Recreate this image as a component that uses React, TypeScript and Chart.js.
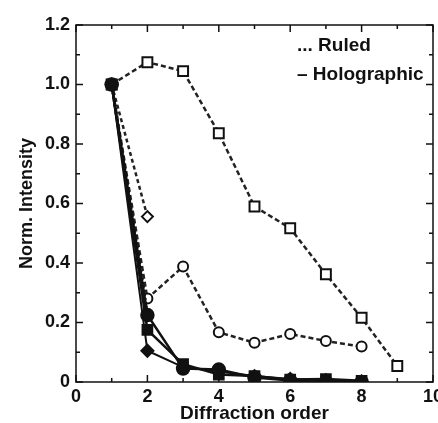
import React, { useEffect, useRef } from 'react';
import { Chart, registerables } from 'chart.js';
Chart.register(...registerables);

const orders = [1, 2, 3, 4, 5, 6, 7, 8, 9];
const ruledSquare = [1.0, 1.075, 1.045, 0.836, 0.59, 0.517, 0.362, 0.216, 0.054];
const ruledCircle = [1.0, 0.281, 0.388, 0.167, 0.132, 0.161, 0.138, 0.119];
const ruledDiamond = [1.0, 0.556];
const ruledDotted = [1.0, 0.23];
const holoSquare = [1.0, 0.175, 0.06, 0.025, 0.02, 0.008, 0.01, 0.004];
const holoCircle = [1.0, 0.225, 0.045, 0.042, 0.015, 0.005, 0.0, 0.0];
const holoDiamond = [1.0, 0.105, 0.05, 0.035, 0.02, 0.01, 0.006, 0.002];
const xTicks = [0, 2, 4, 6, 8, 10];
const yTicks = [0, 0.2, 0.4, 0.6, 0.8, 1.0, 1.2];
const legendLabels = ['... Ruled', '\u2013 Holographic'];

const FONT = '"Liberation Sans", Arial, sans-serif';
const AREA_RIGHT = 433;

const pts = (vals: number[]) => vals.map((v, i) => ({ x: orders[i], y: v }));

const fixArea = {
  id: 'fixArea',
  afterLayout(chart: any) {
    try {
      const xs = chart.scales.x;
      if (xs && xs.right !== AREA_RIGHT) {
        xs.right = AREA_RIGHT;
        xs.width = AREA_RIGHT - xs.left;
        xs.configure();
        chart.chartArea.right = AREA_RIGHT;
        chart.chartArea.width = AREA_RIGHT - chart.chartArea.left;
      }
    } catch (e) {
      /* keep default layout */
    }
  },
};

const frame = {
  id: 'frame',
  afterDraw(chart: any) {
    const { ctx, chartArea: a, scales } = chart;
    const xs = scales.x, ys = scales.y;
    ctx.save();
    ctx.strokeStyle = '#111';
    ctx.lineWidth = 1.5;
    ctx.strokeRect(a.left, a.top, a.right - a.left, a.bottom - a.top);
    ctx.beginPath();
    for (let v = 0; v <= 10; v += 1) {
      const len = v % 2 === 0 ? 7 : 4;
      const px = xs.getPixelForValue(v);
      ctx.moveTo(px, a.bottom); ctx.lineTo(px, a.bottom - len);
      ctx.moveTo(px, a.top); ctx.lineTo(px, a.top + len);
    }
    for (let k = 0; k <= 12; k += 1) {
      const len = k % 2 === 0 ? 7 : 4;
      const py = ys.getPixelForValue(k / 10);
      ctx.moveTo(a.left, py); ctx.lineTo(a.left + len, py);
      ctx.moveTo(a.right, py); ctx.lineTo(a.right - len, py);
    }
    ctx.stroke();
    ctx.fillStyle = '#111';
    ctx.font = `bold 19px ${FONT}`;
    ctx.textBaseline = 'middle';
    ctx.textAlign = 'left';
    ctx.fillText(legendLabels[0], 297, 46);
    ctx.fillText(legendLabels[1], 297, 75);
    ctx.restore();
  },
};

export default function App() {
  const ref = useRef<HTMLCanvasElement>(null);
  useEffect(() => {
    document.body.style.margin = '0';
    const dashed = [5, 3];
    const chart = new Chart(ref.current!, {
      type: 'line',
      data: {
        datasets: [
          { data: pts(holoSquare), borderColor: '#111', borderWidth: 2.5, pointStyle: 'rect', pointRadius: 6.5, pointBackgroundColor: '#111', pointBorderColor: '#111' },
          { data: pts(holoCircle), borderColor: '#111', borderWidth: 2.5, pointStyle: 'circle', pointRadius: 6, pointBackgroundColor: '#111', pointBorderColor: '#111' },
          { data: pts(holoDiamond), borderColor: '#111', borderWidth: 2, pointStyle: 'rectRot', pointRadius: 6, pointBackgroundColor: '#111', pointBorderColor: '#111' },
          { data: pts(ruledDotted), borderColor: '#111', borderWidth: 3, borderDash: [2, 2], pointStyle: 'circle', pointRadius: 0 },
          { data: pts(ruledSquare), borderColor: '#222', borderWidth: 2.5, borderDash: dashed, pointStyle: 'rect', pointRadius: 7, pointBorderWidth: 2, pointBackgroundColor: '#fff', pointBorderColor: '#111' },
          { data: pts(ruledCircle), borderColor: '#222', borderWidth: 2.5, borderDash: dashed, pointStyle: 'circle', pointRadius: 5, pointBorderWidth: 2, pointBackgroundColor: '#fff', pointBorderColor: '#111' },
          { data: pts(ruledDiamond), borderColor: '#222', borderWidth: 2.5, borderDash: [4, 3], pointStyle: 'rectRot', pointRadius: 5.5, pointBorderWidth: 2, pointBackgroundColor: '#fff', pointBorderColor: '#111' },
        ],
      },
      options: {
        responsive: false,
        animation: false,
        events: [],
        layout: { padding: { top: 25, right: 0, left: 0, bottom: 0 } },
        plugins: { legend: { display: false }, tooltip: { enabled: false } },
        scales: {
          x: {
            type: 'linear', min: 0, max: 10,
            afterBuildTicks: (s: any) => { s.ticks = xTicks.map((v) => ({ value: v })); },
            afterFit: (s: any) => { s.height = 41; s.paddingLeft = 0; s.paddingRight = 0; },
            grid: { display: false, drawTicks: false },
            border: { display: false },
            ticks: { color: '#111', padding: 4, maxRotation: 0, autoSkip: false, font: { family: FONT, size: 18, weight: 'bold' } },
            title: { display: true, text: 'Diffraction order', color: '#111', padding: { top: 0, bottom: 0 }, font: { family: FONT, size: 19, weight: 'bold', lineHeight: 1 } },
          },
          y: {
            type: 'linear', min: 0, max: 1.2,
            afterBuildTicks: (s: any) => { s.ticks = yTicks.map((v) => ({ value: v })); },
            afterFit: (s: any) => { s.width = 76; s.paddingTop = 0; s.paddingBottom = 0; },
            grid: { display: false, drawTicks: false },
            border: { display: false },
            ticks: { color: '#111', padding: 6, font: { family: FONT, size: 18, weight: 'bold' }, callback: (v: any) => (v === 0 ? '0' : Number(v).toFixed(1)) },
            title: { display: true, text: 'Norm. Intensity', color: '#111', padding: { top: 16, bottom: 0 }, font: { family: FONT, size: 18, weight: 'bold' } },
          },
        },
      },
      plugins: [fixArea, frame],
    } as any);
    return () => chart.destroy();
  }, []);
  return (
    <div style={{ width: 438, height: 423, background: '#fff' }}>
      <canvas ref={ref} width={438} height={423} />
    </div>
  );
}
